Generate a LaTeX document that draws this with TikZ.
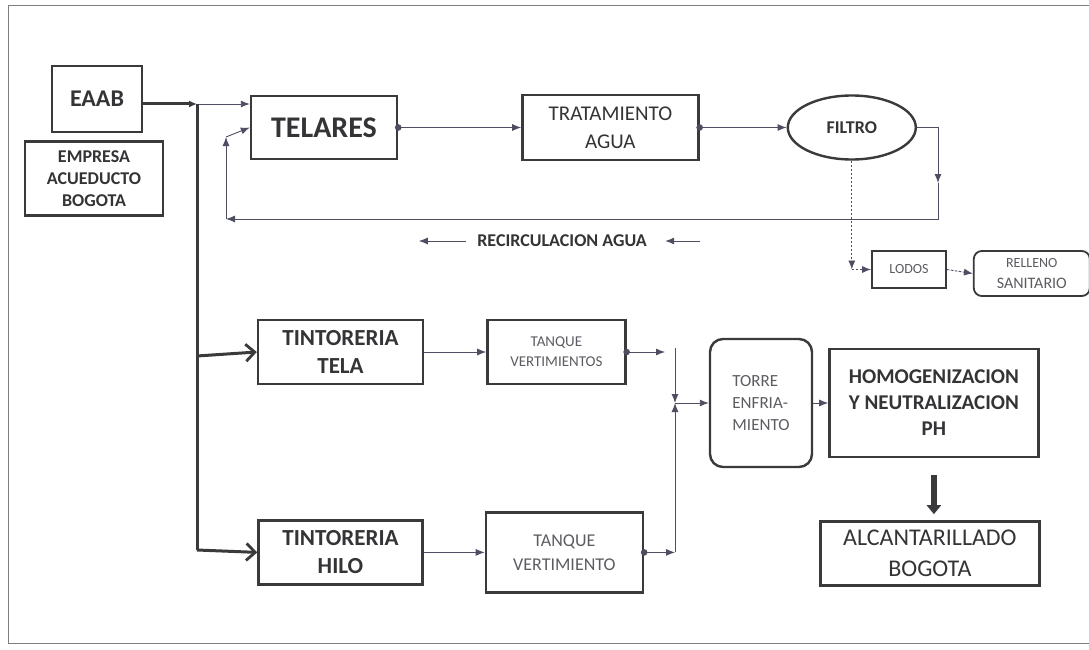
\documentclass[tikz,border=0pt]{standalone}
\usepackage{fontspec}
\setmainfont{Carlito}
\usepackage{tikz}
\usetikzlibrary{shapes,arrows.meta,positioning}
\definecolor{boxgray}{RGB}{58,58,60}
\definecolor{txtgray}{RGB}{52,52,55}
\definecolor{lightgray}{RGB}{92,92,98}
\definecolor{flowgray}{RGB}{78,78,98}
\definecolor{framegray}{RGB}{125,125,130}
\newcommand{\fsz}[2]{\fontsize{#1}{#2}\selectfont}
\tikzstyle{box} = [rectangle, draw=boxgray, line width=2.4pt, text=txtgray, align=center, inner sep=0pt]
\tikzstyle{rbox} = [box, rounded corners=13pt]
\tikzstyle{ellbox} = [ellipse, draw=boxgray, line width=2.4pt, text=txtgray, align=center, inner sep=0pt]
\tikzstyle{flow} = [draw=flowgray, line width=0.9pt, -{Latex[length=9pt,width=7pt]}]
\tikzstyle{dflow} = [flow, dash pattern=on 2.5pt off 1.5pt]
\tikzstyle{dotflow} = [flow, {Circle[length=6.5pt]}-{Latex[length=9pt,width=7pt]}, shorten <=-3.2pt]
\tikzstyle{bus} = [draw=boxgray, line width=3pt]
\tikzstyle{busarrow} = [bus, -{Straight Barb[length=9pt,width=17pt,line width=2.8pt]}]
\tikzstyle{bigarrow} = [draw=boxgray, line width=6pt, -{Triangle[length=9pt,width=14pt]}]

\begin{document}
\begin{tikzpicture}[x=1pt, y=-1pt]

\fill[white] (0,0) rectangle (1089,650);
\useasboundingbox (0,0) rectangle (1089,650);
\draw[framegray, line width=1pt] (1089,6) -- (8,6) -- (8,643) -- (1089,643);

% nodes on the top =============================

\node[box, minimum width=90pt, minimum height=66pt, font=\fsz{24}{28}\bfseries] (eaab) at (97,99) {EAAB};
\node[box, below=7pt of eaab, xshift=-3pt, minimum width=138pt, minimum height=74pt, font=\fsz{18}{22}\bfseries] (empresa) {EMPRESA\\ACUEDUCTO\\BOGOTA};
\node[box, minimum width=146pt, minimum height=63pt, font=\fsz{30}{34}\bfseries] (telares) at (324,127.5) {TELARES};
\node[box, right=123pt of telares, minimum width=176pt, minimum height=65pt, font=\fsz{21}{28}] (trat) {TRATAMIENTO\\AGUA};
\node[ellbox, right=87pt of trat, minimum width=128pt, minimum height=64pt, font=\fsz{18}{22}\bfseries] (filtro) {FILTRO};
\node[box, line width=1.8pt, minimum width=74pt, minimum height=37pt, font=\fsz{14}{16}, text=lightgray] (lodos) at (909,269.5) {LODOS};
\node[rbox, right=26pt of lodos, yshift=-4pt, rounded corners=8pt, line width=1.8pt, minimum width=116pt, minimum height=45pt, font=\fsz{14}{21}, text=lightgray] (relleno) {RELLENO\\{\fsz{16}{21}SANITARIO}};
\node[font=\fsz{18}{22}\bfseries, text=txtgray] (recirc) at (562,241) {RECIRCULACION AGUA};

% edges on the top
\coordinate (jn) at (197,104);
\draw[bus, -{Latex[length=8pt,width=7pt]}] (eaab.east |- jn) -- (jn);
\draw[flow] (jn) -- (telares.west |- jn);
\draw[dotflow] (telares) -- (trat);
\draw[dotflow] (trat) -- (filtro);

%% recirculation loop
\coordinate (rcM) at (938,183);
\coordinate (rcA) at (938,219);
\coordinate (rcB) at (226,219);
\coordinate (rcC) at (226,137);
\draw[flow] (filtro.east) -| (rcM);
\draw[flow] (rcM) -- (rcA) -- (rcB);
\draw[flow] (rcB) -- (rcC);
\draw[flow] (rcC) -- (telares.west);
\coordinate[left=8pt of recirc] (ra1);
\coordinate[left=55pt of recirc] (ra2);
\coordinate[right=15pt of recirc] (rb1);
\coordinate[right=50pt of recirc] (rb2);
\draw[flow] (ra1) -- (ra2);
\draw[flow] (rb2) -- (rb1);

%% sludge
\coordinate (dj) at (filtro.south |- lodos.west);
\draw[dflow] (filtro.south) -- (dj);
\draw[dflow] (dj) -- (lodos.west);
\draw[dflow] (lodos.east) -- (relleno.west);

% nodes on the bottom =============================

\node[box, minimum width=165pt, minimum height=64pt, font=\fsz{23}{28}\bfseries] (tela) at (340.5,352) {TINTORERIA\\TELA};
\node[box, below=134pt of tela, minimum width=164pt, minimum height=64pt, font=\fsz{23}{28}\bfseries] (hilo) {TINTORERIA\\HILO};
\node[box, right=62pt of tela, minimum width=138pt, minimum height=64pt, font=\fsz{15}{20}, text=lightgray] (tanq1) {TANQUE\\VERTIMIENTOS};
\node[box, right=61pt of hilo, minimum width=157pt, minimum height=80pt, font=\fsz{18}{24}, text=lightgray] (tanq2) {TANQUE\\VERTIMIENTO};
\node[rbox, minimum width=102pt, minimum height=128pt, align=left, font=\fsz{17}{22}, text=lightgray] (torre) at (761,403) {TORRE\\ENFRIA-\\MIENTO};
\node[box, right=15pt of torre, minimum width=209pt, minimum height=108pt, font=\fsz{21}{26}\bfseries] (homog) {HOMOGENIZACION\\Y NEUTRALIZACION\\PH};
\node[box, below=62pt of homog, xshift=-4pt, minimum width=219pt, minimum height=64pt, font=\fsz{24}{31}] (alcant) {ALCANTARILLADO\\BOGOTA};

% edges on the bottom
\coordinate (bustela) at (197,356);
\coordinate (bushilo) at (197,550);
\draw[bus] (jn) -- (bushilo);
\draw[busarrow] (bustela) -- (tela.west);
\draw[busarrow] (bushilo) -- (hilo.west);
\draw[flow] (tela) -- (tanq1);
\draw[flow] (hilo) -- (tanq2);

%% mixing point
\coordinate (vtop) at (675,348);
\coordinate (vbot) at (vtop |- tanq2.east);
\coordinate (vm) at (vtop |- torre.west);
\coordinate (m1) at (665,352);
\draw[dotflow] (tanq1.east) -- (m1);
\draw[dotflow] (tanq2.east) -- (vbot);
\draw[flow] (vtop) -- (vm);
\draw[flow] (vbot) -- (vm);
\draw[flow] (vm) -- (torre.west);
\draw[flow] (torre) -- (homog);
\draw[bigarrow, shorten <=17pt, shorten >=6pt] (homog.south) -- (homog.south |- alcant.north);

\end{tikzpicture}
\end{document}
